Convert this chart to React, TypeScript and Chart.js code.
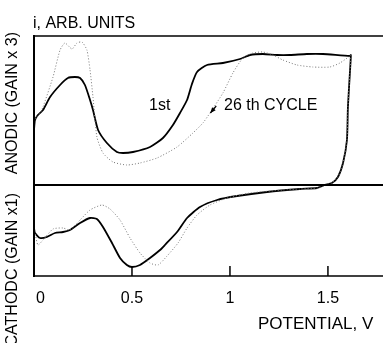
import { useEffect, useRef } from "react";
import { Chart, registerables } from "chart.js";

Chart.register(...registerables);

// Potential (V) and current (arb. units) of the 1st cycle (solid)
const firstV = [
  0, 0.005, 0.02, 0.046, 0.082, 0.133, 0.173, 0.209, 0.235, 0.26, 0.286, 0.301, 0.327, 0.372, 0.423, 0.454,
  0.505, 0.592, 0.658, 0.709, 0.745, 0.781, 0.806, 0.832, 0.883, 0.964, 1.051, 1.102, 1.168, 1.24, 1.306,
  1.393, 1.474, 1.612, 1.617,
  1.612, 1.602, 1.597, 1.577, 1.551, 1.52, 1.485, 1.444, 1.357, 1.189, 1.036, 0.934, 0.847, 0.781, 0.73,
  0.668, 0.643, 0.592, 0.541, 0.5, 0.474, 0.439, 0.398, 0.352, 0.321, 0.286, 0.235, 0.184, 0.148, 0.107,
  0.066, 0.031, 0.005, 0,
];
const firstI = [
  0.55, 0.65, 0.7, 0.75, 0.88, 1.0, 1.07, 1.08, 1.07, 1.0, 0.85, 0.75, 0.55, 0.42, 0.33, 0.32,
  0.33, 0.38, 0.47, 0.6, 0.72, 0.85, 1.01, 1.13, 1.2, 1.22, 1.26, 1.3, 1.31, 1.3, 1.3,
  1.31, 1.31, 1.29, 1.3,
  1.12, 0.78, 0.45, 0.22, 0.08, 0.02, 0.0, -0.03, -0.04, -0.07, -0.11, -0.15, -0.22, -0.33, -0.47,
  -0.6, -0.65, -0.73, -0.8, -0.82, -0.8, -0.73, -0.58, -0.42, -0.34, -0.33, -0.38, -0.45, -0.47, -0.48,
  -0.52, -0.53, -0.48, -0.43,
];

// Potential (V) and current (arb. units) of the 26th cycle (dotted)
const lastV = [
  0, 0.01, 0.031, 0.046, 0.097, 0.133, 0.158, 0.194, 0.219, 0.245, 0.27, 0.286, 0.301, 0.321, 0.352, 0.403,
  0.474, 0.541, 0.628, 0.73, 0.811, 0.862, 0.898, 0.964, 1.015, 1.066, 1.117, 1.168, 1.219, 1.27, 1.342,
  1.423, 1.51, 1.561, 1.612, 1.617,
  1.612, 1.602, 1.597, 1.577, 1.551, 1.52, 1.485, 1.444, 1.357, 1.27, 1.102, 0.985, 0.898, 0.832, 0.781,
  0.735, 0.679, 0.633, 0.592, 0.541, 0.49, 0.439, 0.388, 0.347, 0.286, 0.235, 0.184, 0.148, 0.097, 0.046,
  0.02, 0.005,
];
const lastI = [
  0.6, 0.67, 0.72, 0.78, 1.08, 1.35, 1.42, 1.36, 1.42, 1.43, 1.35, 1.15, 0.88, 0.48, 0.32, 0.23,
  0.2, 0.22, 0.27, 0.38, 0.52, 0.62, 0.72, 0.92, 1.12, 1.27, 1.32, 1.33, 1.3, 1.25, 1.2,
  1.18, 1.18, 1.22, 1.29, 1.3,
  1.12, 0.78, 0.45, 0.22, 0.08, 0.02, 0.0, -0.03, -0.04, -0.05, -0.08, -0.13, -0.2, -0.3, -0.43,
  -0.58, -0.71, -0.8, -0.78, -0.68, -0.53, -0.35, -0.24, -0.2, -0.25, -0.35, -0.45, -0.43, -0.44, -0.55,
  -0.6, -0.47,
];

const potentialTicks = [0, 0.5, 1, 1.5];
const tickLabels = ["0", "0.5", "1", "1.5"];

const X_MIN = 0;
const X_MAX = 1.781;
const Y_MIN = -0.91;
const Y_MAX = 1.49;

const FONT = "'Liberation Sans', Arial, sans-serif";

const zip = (xs: number[], ys: number[]) => xs.map((x, i) => ({ x, y: ys[i] }));

const framePlugin = {
  id: "frame",
  afterDatasetsDraw(chart: any) {
    const ctx = chart.ctx as CanvasRenderingContext2D;
    const xs = chart.scales.x;
    const ys = chart.scales.y;
    const left = xs.getPixelForValue(X_MIN);
    const right = xs.getPixelForValue(X_MAX);
    const top = ys.getPixelForValue(Y_MAX);
    const bottom = ys.getPixelForValue(Y_MIN);
    const zero = ys.getPixelForValue(0);
    ctx.save();
    ctx.strokeStyle = "#000";
    ctx.lineCap = "butt";
    const line = (x1: number, y1: number, x2: number, y2: number, w: number) => {
      ctx.lineWidth = w;
      ctx.beginPath();
      ctx.moveTo(x1, y1);
      ctx.lineTo(x2, y2);
      ctx.stroke();
    };
    line(left - 1, top, right, top, 1.5);
    line(left - 1, zero, right, zero, 2);
    line(left - 1, bottom, right, bottom, 1.5);
    line(left, top - 1, left, bottom + 1, 2);
    // inward ticks
    potentialTicks.forEach((v) => {
      if (v === 0) return;
      const px = xs.getPixelForValue(v);
      line(px, bottom, px, bottom - 10, 1.5);
    });
    ctx.fillStyle = "#000";
    ctx.font = `16px ${FONT}`;
    ctx.textBaseline = "alphabetic";
    potentialTicks.forEach((v, i) => {
      const px = xs.getPixelForValue(v);
      ctx.textAlign = i === 0 ? "left" : "center";
      ctx.fillText(tickLabels[i], i === 0 ? px + 2 : px, 303);
    });
    ctx.textAlign = "left";
    ctx.font = `17px ${FONT}`;
    ctx.fillText("POTENTIAL, V", 258, 329);
    ctx.font = `16px ${FONT}`;
    ctx.fillText("i, ARB. UNITS", 33, 28);
    ctx.fillText("1st", 149, 110);
    ctx.fillText("26 th CYCLE", 224, 110);

    // arrow to the 26th cycle curve
    const tipX = xs.getPixelForValue(0.9);
    const tipY = ys.getPixelForValue(0.72);
    const tailX = xs.getPixelForValue(0.93);
    const tailY = ys.getPixelForValue(0.79);
    line(tailX, tailY, tipX, tipY, 1.2);
    const ang = Math.atan2(tipY - tailY, tipX - tailX);
    ctx.beginPath();
    ctx.moveTo(tipX, tipY);
    ctx.lineTo(tipX - 6 * Math.cos(ang - 0.4), tipY - 6 * Math.sin(ang - 0.4));
    ctx.lineTo(tipX - 6 * Math.cos(ang + 0.4), tipY - 6 * Math.sin(ang + 0.4));
    ctx.closePath();
    ctx.fill();

    // rotated axis titles
    ctx.font = `16px ${FONT}`;
    ctx.textBaseline = "middle";
    ctx.textAlign = "right";
    ctx.save();
    ctx.translate(13, 32);
    ctx.rotate(-Math.PI / 2);
    ctx.fillText("ANODIC (GAIN x 3)", 0, 0);
    ctx.restore();
    ctx.save();
    ctx.translate(13, 193);
    ctx.rotate(-Math.PI / 2);
    ctx.fillText("CATHODC (GAIN x1)", 0, 0);
    ctx.restore();
    ctx.restore();
  },
};

export default function App() {
  const ref = useRef<HTMLCanvasElement>(null);
  useEffect(() => {
    document.body.style.margin = "0";
    const chart = new Chart(ref.current!, {
      type: "scatter",
      data: {
        datasets: [
          {
            label: "26th cycle",
            data: zip(lastV, lastI),
            showLine: true,
            pointRadius: 0,
            borderColor: "#777",
            borderWidth: 1,
            borderDash: [1, 2],
            tension: 0.2,
            fill: false,
          },
          {
            label: "1st cycle",
            data: zip(firstV, firstI),
            showLine: true,
            pointRadius: 0,
            borderColor: "#000",
            borderWidth: 1.8,
            tension: 0.2,
            fill: false,
          },
        ],
      },
      options: {
        animation: false,
        responsive: false,
        maintainAspectRatio: false,
        devicePixelRatio: 1,
        layout: { padding: { left: 34, top: 36, right: 0, bottom: 67 } },
        plugins: { legend: { display: false }, tooltip: { enabled: false } },
        scales: {
          x: { type: "linear", min: X_MIN, max: X_MAX, display: false },
          y: { type: "linear", min: Y_MIN, max: Y_MAX, display: false },
        },
      },
      plugins: [framePlugin],
    });
    return () => chart.destroy();
  }, []);
  return <canvas ref={ref} width={383} height={343} style={{ display: "block" }} />;
}
